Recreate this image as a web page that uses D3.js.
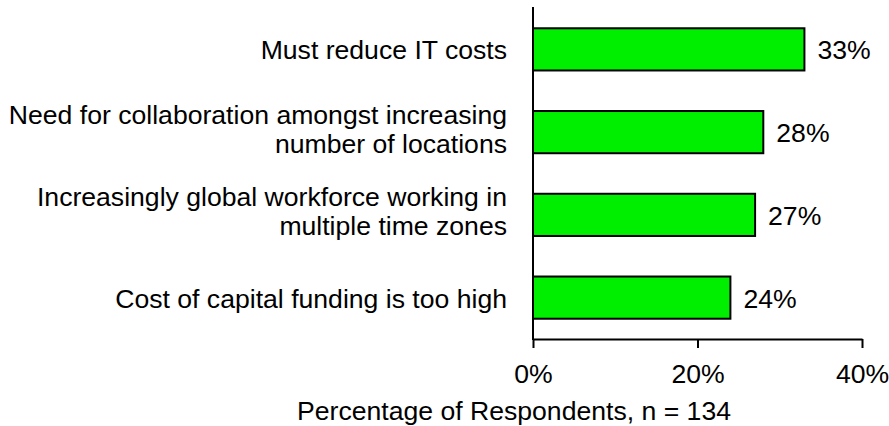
<!DOCTYPE html>
<html><head><meta charset="utf-8">
<script src="https://cdn.jsdelivr.net/npm/d3@7/dist/d3.min.js"></script>
<style>body{margin:0;background:#fff}svg{display:block}text{font-family:"Liberation Sans",Arial,sans-serif;fill:#000}</style>
</head><body>
<script>
const categories = [
  ["Must reduce IT costs"],
  ["Need for collaboration amongst increasing", "number of locations"],
  ["Increasingly global workforce working in", "multiple time zones"],
  ["Cost of capital funding is too high"]
];
const values = [33, 28, 27, 24];
const tickValues = [0, 20, 40];
const axisTitle = "Percentage of Respondents, n = 134";

const W = 889, H = 426, FS = 26.6;
const svg = d3.select("body").append("svg").attr("width", W).attr("height", H);
const x = d3.scaleLinear().domain([0, 40]).range([533, 862]);
const y = d3.scaleBand().domain(d3.range(categories.length)).range([8, 339]).paddingInner(0.49).paddingOuter(0.245);

svg.selectAll("rect.bar").data(values).join("rect")
  .attr("class", "bar")
  .attr("x", x(0)).attr("y", (d, i) => y(i))
  .attr("width", d => x(d) - x(0)).attr("height", y.bandwidth())
  .attr("fill", "#00ee00").attr("stroke", "#000").attr("stroke-width", 2);

svg.selectAll("text.val").data(values).join("text")
  .attr("class", "val")
  .attr("x", d => x(d) + 13).attr("y", (d, i) => y(i) + y.bandwidth() / 2 + 10)
  .attr("font-size", FS)
  .text(d => d + "%");

// category labels
categories.forEach((lines, i) => {
  const cy = y(i) + y.bandwidth() / 2;
  const lh = 29;
  const shift = lines.length > 1 ? 6 : 10;
  const t = svg.append("text").attr("text-anchor", "end").attr("font-size", FS);
  lines.forEach((ln, j) => {
    t.append("tspan").attr("x", 507)
      .attr("y", cy + shift + (j - (lines.length - 1) / 2) * lh)
      .text(ln);
  });
});

// x axis
const xa = svg.append("g").attr("transform", "translate(0,339)")
  .call(d3.axisBottom(x).tickValues(tickValues).tickFormat(d => d + "%").tickSize(9).tickSizeOuter(0));
xa.select(".domain").attr("stroke", "#000").attr("stroke-width", 2);
xa.selectAll(".tick line").attr("stroke", "#000").attr("stroke-width", 2);
xa.selectAll(".tick text").attr("font-size", FS).attr("font-family", '"Liberation Sans",Arial,sans-serif')
  .attr("fill", "#000").attr("y", 44).attr("dy", null);

// y axis line
svg.append("line").attr("x1", x(0)).attr("x2", x(0)).attr("y1", 7).attr("y2", 340)
  .attr("stroke", "#000").attr("stroke-width", 2);

svg.append("text").attr("x", 514).attr("y", 420).attr("text-anchor", "middle")
  .attr("font-size", FS).text(axisTitle);
</script>
</body></html>
